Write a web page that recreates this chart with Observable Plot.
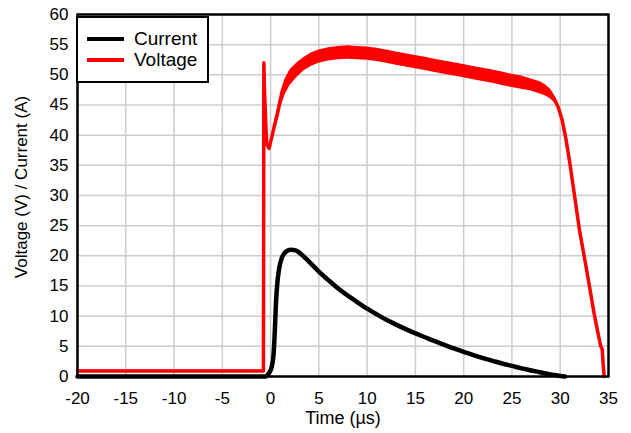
<!DOCTYPE html>
<html>
<head>
<meta charset="utf-8">
<script src="https://cdn.jsdelivr.net/npm/d3@7"></script>
<script src="https://cdn.jsdelivr.net/npm/@observablehq/plot@0.6"></script>
<style>
  html, body { margin: 0; padding: 0; background: #fff; }
  #wrap { position: relative; width: 631px; height: 433px; font-family: "Liberation Sans", Arial, sans-serif; }
  #legend { position: absolute; left: 76px; top: 16px; width: 129px; height: 63px; border: 2px solid #000; background: #fff; box-sizing: content-box; }
  .item { position: absolute; left: 0; display: flex; align-items: center; font-size: 19px; line-height: 20px; color: #000; }
  .swatch { display: inline-block; width: 37px; height: 4px; margin-left: 9px; margin-right: 10px; }
  .lab { position: absolute; white-space: nowrap; color: #000; line-height: 1; }
  #xlab { left: 343px; top: 418px; font-size: 18px; transform: translate(-50%, -50%); }
  #ylab { left: 21px; top: 187px; font-size: 17px; transform: translate(-50%, -50%) rotate(-90deg); }
</style>
</head>
<body>
<div id="wrap">
  <div id="chart"></div>
  <div id="legend">
    <div class="item" style="top:11px"><span class="swatch" style="background:#000"></span>Current</div>
    <div class="item" style="top:32px"><span class="swatch" style="background:#ff0000"></span>Voltage</div>
  </div>
  <div class="lab" id="xlab">Time (µs)</div>
  <div class="lab" id="ylab">Voltage (V) / Current (A)</div>
</div>
<script>
// ---- data ----
const xTicks = [-20, -15, -10, -5, 0, 5, 10, 15, 20, 25, 30, 35];
const yTicks = [0, 5, 10, 15, 20, 25, 30, 35, 40, 45, 50, 55, 60];

const voltageTime  = [-20, -0.74, -0.7, -0.62, -0.5, -0.4, -0.16, 0.1, 0.36, 0.7, 1.06, 1.5, 2.0, 2.8, 3.5, 4.2, 5, 6, 7, 8, 9, 10, 11, 12, 13, 14, 15, 16, 17, 18, 19, 20, 21, 22, 23, 24, 25, 26, 27, 28, 28.5, 29, 29.4, 29.8, 30.2, 30.6, 31, 31.5, 32, 32.5, 33, 33.5, 34, 34.2, 34.35, 34.45, 34.55];
const voltageValue = [0.9, 0.9, 52, 47, 42, 38.5, 37.8, 39.5, 41.3, 43.5, 46, 48, 49.5, 50.9, 51.8, 52.5, 53.0, 53.4, 53.6, 53.7, 53.6, 53.5, 53.3, 53.0, 52.7, 52.4, 52.1, 51.8, 51.5, 51.2, 50.9, 50.6, 50.3, 50.0, 49.7, 49.35, 49.0, 48.7, 48.3, 47.8, 47.4, 46.8, 46.0, 44.6, 42.5, 39.3, 35.3, 29.8, 24.2, 19.8, 15.2, 10.5, 6.5, 5.0, 4.5, 2.0, 0];
const voltageNoise = [0.15, 0.15, 0, 0, 0, 0, 0, 0.3, 0.6, 0.9, 1.2, 1.3, 1.3, 1.2, 1.1, 1.1, 1.1, 1.1, 1.1, 1.1, 1.1, 1.1, 1.1, 1.1, 1.1, 1.1, 1.1, 1.1, 1.1, 1.1, 1.1, 1.1, 1.1, 1.1, 1.1, 1.1, 1.1, 1.1, 1.0, 1.0, 0.9, 0.8, 0.6, 0.4, 0.2, 0, 0, 0, 0, 0, 0, 0, 0, 0, 0, 0, 0];

const currentTime  = [-20, -0.5, -0.2, 0.1, 0.3, 0.45, 0.55, 0.7, 0.9, 1.2, 1.6, 2.1, 2.6, 3, 4, 5, 6, 7, 8, 9, 10, 11, 12, 13, 14, 15, 16, 17, 18, 19, 20, 21, 22, 23, 24, 25, 26, 27, 28, 29, 30, 30.5];
const currentValue = [0, 0, 0.5, 1.5, 3.5, 8, 12, 15.5, 18, 19.8, 20.7, 21.0, 20.9, 20.5, 19.0, 17.4, 15.95, 14.6, 13.4, 12.3, 11.25, 10.3, 9.4, 8.6, 7.85, 7.15, 6.5, 5.85, 5.25, 4.65, 4.1, 3.55, 3.05, 2.6, 2.15, 1.75, 1.35, 1.0, 0.65, 0.35, 0.1, 0];

const voltage = voltageTime.map((t, i) => ({t, v: voltageValue[i], lo: voltageValue[i] - voltageNoise[i], hi: voltageValue[i] + voltageNoise[i]}));
const current = currentTime.map((t, i) => ({t, v: currentValue[i]}));

const chart = Plot.plot({
  width: 631,
  height: 433,
  marginLeft: 77,
  marginRight: 23,
  marginTop: 14,
  marginBottom: 57,
  style: {fontFamily: '"Liberation Sans", Arial, sans-serif', fontSize: "17px", color: "#000", background: "#fff"},
  x: {domain: [-20, 35], ticks: xTicks, tickSize: 0, tickPadding: 15, label: null, tickFormat: d => d < 0 ? "-" + Math.abs(d) : String(d)},
  y: {domain: [0, 60], ticks: yTicks, tickSize: 0, tickPadding: 9, label: null},
  marks: [
    Plot.gridX(xTicks, {stroke: "#cccccc", strokeOpacity: 1, strokeWidth: 1.5}),
    Plot.gridY(yTicks, {stroke: "#cccccc", strokeOpacity: 1, strokeWidth: 1.5}),
    Plot.areaY(voltage, {x: "t", y1: "lo", y2: "hi", fill: "#ff0000", curve: "linear"}),
    Plot.lineY(voltage, {x: "t", y: "v", stroke: "#ff0000", strokeWidth: 3.5, curve: "linear"}),
    Plot.lineY(current, {x: "t", y: "v", stroke: "#000000", strokeWidth: 4.5, curve: "monotone-x"}),
    Plot.frame({stroke: "#000", strokeWidth: 2.5})
  ]
});
document.getElementById("chart").appendChild(chart);
</script>
</body>
</html>
